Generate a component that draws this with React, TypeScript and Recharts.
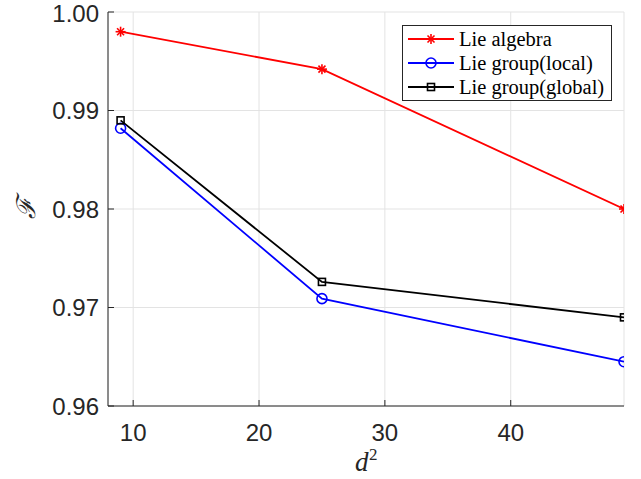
import React from 'react';
import { LineChart, Line, XAxis, YAxis, CartesianGrid } from 'recharts';

const dimensions = [9, 25, 49];
const lieAlgebra = [0.998, 0.9942, 0.98];
const lieGroupLocal = [0.9882, 0.9709, 0.9645];
const lieGroupGlobal = [0.989, 0.9726, 0.969];

const xTicks = [10, 20, 30, 40];
const yTicks = [0.96, 0.97, 0.98, 0.99, 1.0];

const seriesNames = ['Lie algebra', 'Lie group(local)', 'Lie group(global)'];
const seriesColors = ['#ff0000', '#0000ff', '#000000'];

const data = dimensions.map((d, i) => ({
  d,
  algebra: lieAlgebra[i],
  local: lieGroupLocal[i],
  global: lieGroupGlobal[i],
}));

const AXIS = '#262626';
const serif = '"Liberation Serif", "DejaVu Serif", serif';
const sans = '"Liberation Sans", Arial, sans-serif';

const Star = ({ cx, cy, color }: { cx: number; cy: number; color: string }) => {
  const r = 5;
  const d = r * 0.7;
  return (
    <g stroke={color} strokeWidth={1.6}>
      <line x1={cx - r} y1={cy} x2={cx + r} y2={cy} />
      <line x1={cx} y1={cy - r} x2={cx} y2={cy + r} />
      <line x1={cx - d} y1={cy - d} x2={cx + d} y2={cy + d} />
      <line x1={cx - d} y1={cy + d} x2={cx + d} y2={cy - d} />
    </g>
  );
};

const Circle = ({ cx, cy, color }: { cx: number; cy: number; color: string }) => (
  <circle cx={cx} cy={cy} r={5} fill="none" stroke={color} strokeWidth={1.6} />
);

const Square = ({ cx, cy, color }: { cx: number; cy: number; color: string }) => (
  <rect x={cx - 3.5} y={cy - 3.5} width={7} height={7} fill="none" stroke={color} strokeWidth={1.6} />
);

const markers = [Star, Circle, Square];

const renderDot = (idx: number) => (props: any) => {
  const M = markers[idx];
  return <M key={`${idx}-${props.index}`} cx={props.cx} cy={props.cy} color={seriesColors[idx]} />;
};

// legend box, placed over the top right of the plot like MATLAB's northeast legend
const LegendBox = () => (
  <div
    style={{
      position: 'absolute',
      left: 402,
      top: 25,
      width: 210,
      height: 76,
      boxSizing: 'border-box',
      border: `1px solid ${AXIS}`,
      background: '#fff',
      padding: '1px 0 1px 3px',
      fontFamily: serif,
      fontSize: 20.5,
      color: '#000',
      lineHeight: '24px',
      whiteSpace: 'nowrap',
    }}
  >
    {seriesNames.map((name, i) => {
      const M = markers[i];
      return (
        <div key={name} style={{ display: 'flex', alignItems: 'center', height: 24 }}>
          <svg width={50} height={14} style={{ marginRight: 3, flexShrink: 0 }}>
            <line x1={2} y1={7} x2={48} y2={7} stroke={seriesColors[i]} strokeWidth={1.8} />
            <M cx={25} cy={7} color={seriesColors[i]} />
          </svg>
          <span>{name}</span>
        </div>
      );
    })}
  </div>
);

export default function App() {
  return (
    <div style={{ position: 'absolute', left: 0, top: 0, width: 641, height: 479, background: '#fff' }}>
      <LineChart width={641} height={479} data={data} margin={{ top: 12, right: 17, bottom: 13, left: 8 }}>
        <CartesianGrid stroke="#e3e3e3" strokeWidth={1} />
        <XAxis
          dataKey="d"
          type="number"
          domain={[8, 49]}
          ticks={xTicks}
          allowDataOverflow
          height={60}
          stroke={AXIS}
          tickSize={-6}
          tickMargin={24}
          tick={{ fill: AXIS, fontSize: 24, fontFamily: sans }}
        />
        <XAxis xAxisId="top" orientation="top" type="number" dataKey="d" domain={[8, 49]} ticks={xTicks} height={0} stroke={AXIS} tickSize={-6} tick={false} />
        <YAxis
          type="number"
          domain={[0.96, 1.0]}
          ticks={yTicks}
          allowDataOverflow
          width={100}
          stroke={AXIS}
          tickSize={-6}
          tickMargin={15}
          tickFormatter={(v: number) => v.toFixed(2)}
          tick={{ fill: AXIS, fontSize: 24, fontFamily: sans }}
        />
        <YAxis yAxisId="right" orientation="right" type="number" domain={[0.96, 1.0]} ticks={yTicks} width={0} stroke={AXIS} tickSize={-6} tick={false} />
        <Line dataKey="algebra" stroke={seriesColors[0]} strokeWidth={1.8} dot={renderDot(0)} isAnimationActive={false} />
        <Line dataKey="local" stroke={seriesColors[1]} strokeWidth={1.8} dot={renderDot(1)} isAnimationActive={false} />
        <Line dataKey="global" stroke={seriesColors[2]} strokeWidth={1.8} dot={renderDot(2)} isAnimationActive={false} />
        <text x={355} y={471} fontFamily={serif} fontStyle="italic" fontSize={27} fill={AXIS}>
          d
        </text>
        <text x={369} y={460} fontFamily={serif} fontSize={17} fill={AXIS}>
          2
        </text>
        <text
          x={26}
          y={208}
          transform="rotate(-90 26 208)"
          textAnchor="middle"
          dominantBaseline="central"
          fontFamily={serif}
          fontStyle="italic"
          fontSize={26}
          fill={AXIS}
        >
          ℱ
        </text>
      </LineChart>
      <LegendBox />
    </div>
  );
}
